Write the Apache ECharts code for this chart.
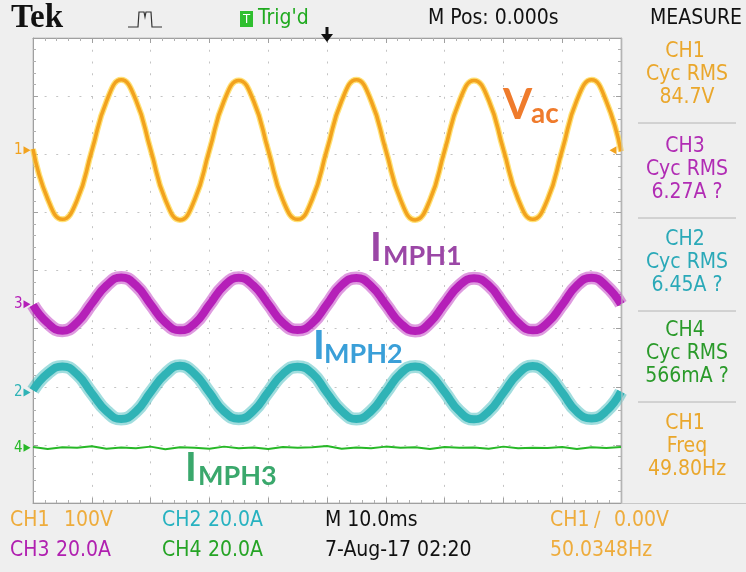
<!DOCTYPE html>
<html>
<head>
<meta charset="utf-8">
<script src="https://cdn.jsdelivr.net/npm/echarts@6/dist/echarts.min.js"></script>
<style>
  html, body { margin: 0; padding: 0; background: #efefef; }
  #chart { width: 746px; height: 572px; }
</style>
</head>
<body>
<div id="chart"></div>
<script>
// time base, ms (10 ms/div)
const times = [0, 2.5, 5, 7.5, 10, 12.5, 15, 17.5, 20, 22.5, 25, 27.5, 30, 32.5, 35, 37.5, 40,
  42.5, 45, 47.5, 50, 52.5, 55, 57.5, 60, 62.5, 65, 67.5, 70, 72.5, 75, 77.5, 80, 82.5, 85, 87.5,
  90, 92.5, 95, 97.5, 100];

// CH1 Vac, volts
const vac = [2, -84, -119, -86, -1, 84, 121, 86, 1, -85, -120, -85, 0, 85, 120, 85,
  0, -86, -119, -84, 1, 85, 121, 85, 0, -85, -120, -86, -1, 84, 120, 86,
  1, -84, -119, -85, 0, 86, 121, 84, -2];
// CH3 IMPH1, amps
const imph1 = [-0.3, -6.5, -9.1, -6.3, 0.2, 6.4, 9.2, 6.5, 0, -6.3, -9, -6.6, -0.2, 6.3, 9.1, 6.4,
  0.1, -6.4, -8.9, -6.5, 0, 6.6, 9, 6.3, -0.1, -6.5, -9.2, -6.3, 0.2, 6.4, 8.9, 6.5,
  0, -6.3, -9, -6.4, -0.2, 6.5, 9.1, 6.3, 0];
// CH2 IMPH2, amps
const imph2 = [0.8, 6.6, 9, 6.3, -0.2, -6.4, -9.1, -6.5, 0.1, 6.3, 9.2, 6.4, 0, -6.5, -9, -6.3,
  0.2, 6.4, 8.9, 6.6, -0.1, -6.3, -9.1, -6.4, 0, 6.5, 9, 6.3, 0.2, -6.4, -9.2, -6.5,
  -0.1, 6.4, 9.1, 6.3, 0, -6.6, -8.9, -6.4, 0.3];
// CH4 IMPH3, amps
const imph3 = [0.3, -0.4, 0.2, 0, 0.5, -0.3, 0.1, -0.2, 0.4, -0.5, 0.2, 0, -0.3, 0.4, -0.2, 0.1,
  -0.4, 0.3, 0, 0.2, 0.6, -0.3, 0.1, -0.2, 0.4, 0, 0.2, -0.4, 0.3, 0, 0.1, -0.3,
  0.4, -0.2, 0, -0.1, 0.3, -0.4, 0.2, -0.1, 0.3];

// channel settings: units/div and ground position in divisions from centre
const channels = [
  { name: '1', scale: 100, pos: 2.07, color: '#f2a21e', data: vac },
  { name: '3', scale: 20, pos: -0.58, color: '#b51fb8', data: imph1 },
  { name: '2', scale: 20, pos: -2.1, color: '#2fb3b6', data: imph2 },
  { name: '4', scale: 20, pos: -3.05, color: '#27b827', data: imph3 }
];

const narrow = "'DejaVu Sans Condensed','Liberation Sans Narrow','Liberation Sans',sans-serif";
const tagFont = "Lato, 'Open Sans', sans-serif";

const chart = echarts.init(document.getElementById('chart'));

const dotted = (gap) => ({ show: true, lineStyle: { color: '#c4c4c4', width: 1, type: [2, gap] } });

const divAxis = (pos) => ({
  type: 'value', min: -4, max: 4, interval: 1, position: pos,
  axisLine: { show: true, onZero: false, lineStyle: { color: '#a0a0a0' } },
  axisTick: { show: true, inside: true, length: 5, lineStyle: { color: '#a0a0a0' } },
  minorTick: { show: true, splitNumber: 5, length: 3, lineStyle: { color: '#b0b0b0' } },
  axisLabel: { show: false },
  splitLine: pos === 'left' ? dotted(9.6) : { show: false }
});

const timeAxis = (pos) => ({
  type: 'value', min: 0, max: 100, interval: 10, position: pos,
  axisLine: { show: true, onZero: false, lineStyle: { color: '#a0a0a0' } },
  axisTick: { show: true, inside: true, length: 5, lineStyle: { color: '#a0a0a0' } },
  minorTick: { show: true, splitNumber: 5, length: 3, lineStyle: { color: '#b0b0b0' } },
  axisLabel: { show: false },
  splitLine: pos === 'bottom' ? dotted(9.76) : { show: false }
});

const chAxes = channels.map(c => ({
  type: 'value', show: false,
  axisLine: { onZero: false },
  min: (-4 - c.pos) * c.scale, max: (4 - c.pos) * c.scale
}));

const groundMark = (c, i) => ({
  symbol: 'triangle', symbolSize: [8, 7], symbolRotate: -90, symbolOffset: [-6, 0],
  itemStyle: { color: c.color },
  label: { show: true, position: 'left', distance: 1, formatter: c.name, color: c.color, fontSize: 15, fontFamily: narrow },
  data: [{ coord: [0, 0] }].concat(i === 0 ? [{
    coord: [100, 0], symbolRotate: 90, symbolOffset: [-8, 0], label: { show: false }
  }] : [])
});

const series = [];
channels.forEach((c, i) => {
  const pts = times.map((t, k) => [t, c.data[k]]);
  if (i === 0) {
    series.push({
      type: 'line', xAxisIndex: 0, yAxisIndex: 2 + i, data: pts, smooth: 0.5, showSymbol: false,
      lineStyle: { color: '#ffd43c', width: 6, opacity: 0.7 }, z: 4, silent: true
    });
    series.push({
      type: 'line', xAxisIndex: 0, yAxisIndex: 2 + i, data: pts, smooth: 0.5, showSymbol: false,
      lineStyle: { color: c.color, width: 3.5 },
      markPoint: groundMark(c, i), z: 5
    });
  } else if (i < 3) {
    series.push({
      type: 'line', xAxisIndex: 0, yAxisIndex: 2 + i, data: pts, smooth: 0.5, showSymbol: false,
      lineStyle: { color: c.color, width: 13, opacity: 0.45 }, z: 3, silent: true
    });
    series.push({
      type: 'line', xAxisIndex: 0, yAxisIndex: 2 + i, data: pts, smooth: 0.5, showSymbol: false,
      lineStyle: { color: c.color, width: 8 }, markPoint: groundMark(c, i), z: 4
    });
  } else {
    series.push({
      type: 'line', xAxisIndex: 0, yAxisIndex: 2 + i, data: pts, smooth: false, showSymbol: false,
      lineStyle: { color: c.color, width: 2 }, markPoint: groundMark(c, i), z: 4
    });
  }
});

const txt = (text, x, y, fill, size, extra) => ({
  type: 'text', x: x, y: y, z: 20,
  style: Object.assign({ text: text, fill: fill, font: size + 'px ' + narrow, textVerticalAlign: 'middle' }, extra || {})
});

const panel = [
  ['CH1', 'Cyc RMS', '84.7V', '#eaa72c', 52],
  ['CH3', 'Cyc RMS', '6.27A ?', '#b12cb4', 147],
  ['CH2', 'Cyc RMS', '6.45A ?', '#2aa9b8', 240],
  ['CH4', 'Cyc RMS', '566mA ?', '#2a9a2a', 331],
  ['CH1', 'Freq', '49.80Hz', '#eaa72c', 424]
];

const graphics = [];
// top bar
graphics.push({ type: 'text', x: 11, y: 18, z: 20, style: { text: 'Tek', fill: '#111', font: 'bold 33px "Liberation Serif", serif', textVerticalAlign: 'middle' } });
graphics.push({ type: 'polyline', z: 20, shape: { points: [[128, 27], [138, 27], [139, 12], [144, 12], [145, 17], [146, 12], [151, 12], [152, 27], [162, 27]] },
  style: { stroke: '#333', lineWidth: 1.2, fill: null } });
graphics.push({ type: 'rect', z: 20, shape: { x: 240, y: 11, width: 13, height: 16 }, style: { fill: '#2fbf2f' } });
graphics.push(txt('T', 246.5, 19.5, '#ffffff', 13, { textAlign: 'center' }));
graphics.push(txt("Trig'd", 258, 19, '#1faa1f', 21));
graphics.push(txt('M Pos: 0.000s', 428, 19, '#111', 21));
graphics.push(txt('MEASURE', 650, 19, '#111', 21));
graphics.push({ type: 'polygon', z: 20, shape: { points: [[325.5, 27], [328.5, 27], [328.5, 34], [333, 34], [327, 42], [321, 34], [325.5, 34]] }, style: { fill: '#111' } });

// right panel
graphics.push({ type: 'line', z: 10, shape: { x1: 622, y1: 38, x2: 622, y2: 503 }, style: { stroke: '#c8c8c8', lineWidth: 1 } });
graphics.push({ type: 'line', z: 10, shape: { x1: 622, y1: 503.5, x2: 746, y2: 503.5 }, style: { stroke: '#c8c8c8', lineWidth: 1 } });
panel.forEach((p, i) => {
  graphics.push(txt(p[0], 685, p[4], p[3], 21, { textAlign: 'center' }));
  graphics.push(txt(p[1], 687, p[4] + 23, p[3], 21, { textAlign: 'center' }));
  graphics.push(txt(p[2], 687, p[4] + 46, p[3], 21, { textAlign: 'center' }));
  if (i < panel.length - 1) {
    graphics.push({ type: 'line', z: 10, shape: { x1: 638, y1: p[4] + 71, x2: 736, y2: p[4] + 71 }, style: { stroke: '#b4b4b4', lineWidth: 1 } });
  }
});

// bottom bar
const orange = '#eeac3c';
graphics.push(txt('CH1', 10, 521, orange, 21));
graphics.push(txt('100V', 64, 521, orange, 21));
graphics.push(txt('CH2', 162, 521, '#27b2c0', 21));
graphics.push(txt('20.0A', 208, 521, '#27b2c0', 21));
graphics.push(txt('M 10.0ms', 325, 521, '#111', 21));
graphics.push(txt('CH1', 550, 521, orange, 21));
graphics.push(txt('\u2215', 594, 521, orange, 21));
graphics.push(txt('0.00V', 614, 521, orange, 21));
graphics.push(txt('CH3', 10, 551, '#b020b0', 21));
graphics.push(txt('20.0A', 56, 551, '#b020b0', 21));
graphics.push(txt('CH4', 162, 551, '#25a425', 21));
graphics.push(txt('20.0A', 208, 551, '#25a425', 21));
graphics.push(txt('7-Aug-17 02:20', 325, 551, '#111', 21));
graphics.push(txt('50.0348Hz', 550, 551, orange, 21));

// waveform tags
const tag = (big, small, x, yb, color, bigSize, smallSize, gap) => {
  graphics.push({ type: 'text', x: x, y: yb, z: 30, style: { text: big, fill: color, font: 'bold ' + bigSize + 'px ' + tagFont, textVerticalAlign: 'bottom' } });
  graphics.push({ type: 'text', x: x + gap, y: yb + 2, z: 30, style: { text: small, fill: color, font: 'bold ' + smallSize + 'px ' + tagFont, textVerticalAlign: 'bottom' } });
};
tag('V', 'ac', 503, 126, '#ef7b2c', 42, 28, 28);
tag('I', 'MPH1', 370, 268, '#9b47a6', 40, 27, 13);
tag('I', 'MPH2', 313, 366, '#3a9fd8', 40, 27, 11);
tag('I', 'MPH3', 185, 488, '#3aa86c', 40, 27, 13);

chart.setOption({
  backgroundColor: '#efefef',
  animation: false,
  grid: { left: 33, right: 125, top: 38, bottom: 69, show: true, backgroundColor: '#ffffff', borderColor: '#c0c0c0', borderWidth: 1 },
  xAxis: [timeAxis('bottom'), timeAxis('top')],
  yAxis: [divAxis('left'), divAxis('right')].concat(chAxes),
  series: series,
  graphic: graphics
});
</script>
</body>
</html>
